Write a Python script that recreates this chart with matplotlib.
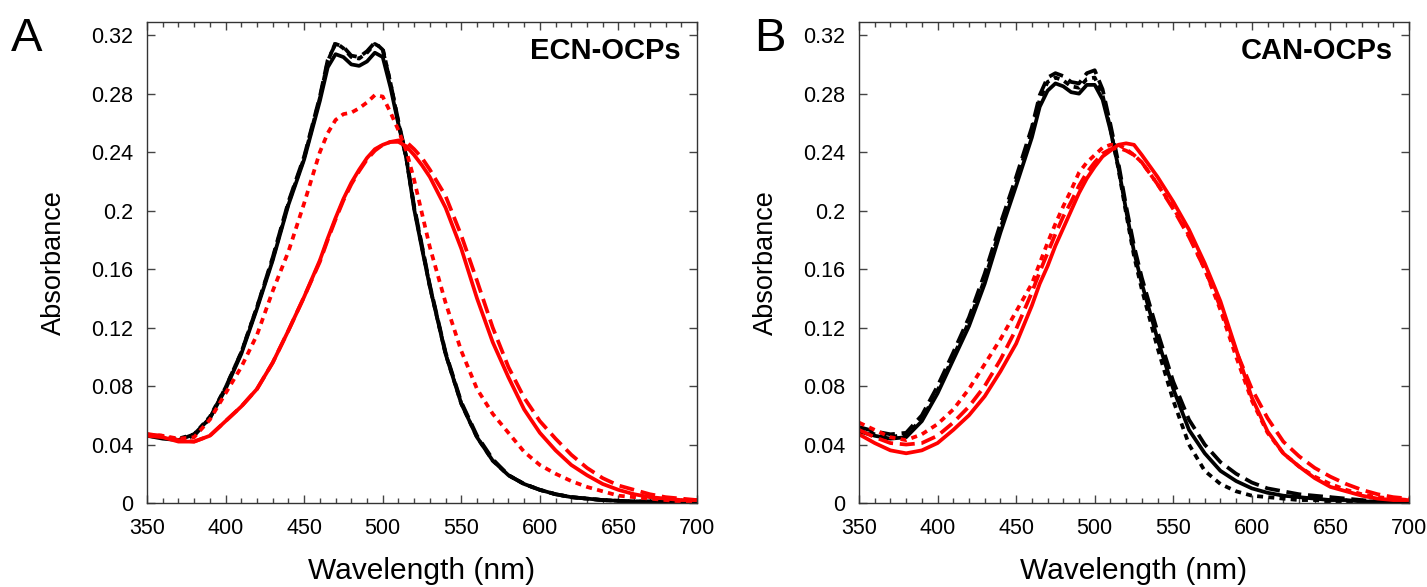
import matplotlib
matplotlib.use("Agg")
import matplotlib.pyplot as plt
from matplotlib.ticker import MultipleLocator, FixedLocator

plt.rcParams['font.family'] = ['Liberation Sans', 'DejaVu Sans']

wavelength = [350, 360, 370, 380, 390, 400, 410, 420, 430, 440, 450, 460, 465, 470, 475,
              480, 485, 490, 495, 500, 505, 510, 515, 520, 525, 530, 540, 550, 560, 570,
              580, 590, 600, 610, 620, 630, 640, 650, 660, 670, 680, 690, 700]

# ---- Panel A: ECN-OCPs ----
ecn_black_solid = [0.046, 0.044, 0.043, 0.047, 0.058, 0.078, 0.102, 0.133, 0.166, 0.204, 0.235, 0.275, 0.298, 0.307, 0.305,
                   0.300, 0.299, 0.302, 0.308, 0.305, 0.284, 0.259, 0.236, 0.201, 0.174, 0.148, 0.102, 0.068, 0.045, 0.029,
                   0.019, 0.013, 0.009, 0.006, 0.004, 0.003, 0.002, 0.0015, 0.001, 0.001, 0.001, 0.0005, 0.0]
ecn_black_dashed = [0.047, 0.045, 0.043, 0.046, 0.058, 0.079, 0.103, 0.134, 0.168, 0.206, 0.237, 0.278, 0.303, 0.314, 0.312,
                    0.306, 0.305, 0.309, 0.315, 0.310, 0.287, 0.261, 0.237, 0.203, 0.176, 0.149, 0.103, 0.069, 0.046, 0.030,
                    0.019, 0.013, 0.009, 0.006, 0.004, 0.003, 0.002, 0.0015, 0.001, 0.001, 0.001, 0.0005, 0.0]
ecn_black_dotted = [0.046, 0.045, 0.044, 0.047, 0.059, 0.079, 0.103, 0.134, 0.167, 0.205, 0.236, 0.277, 0.302, 0.315, 0.311,
                    0.305, 0.304, 0.308, 0.314, 0.311, 0.287, 0.260, 0.236, 0.202, 0.175, 0.148, 0.102, 0.068, 0.045, 0.029,
                    0.019, 0.013, 0.009, 0.006, 0.004, 0.003, 0.002, 0.0015, 0.001, 0.001, 0.001, 0.0005, 0.0]
ecn_red_solid = [0.046, 0.045, 0.042, 0.042, 0.046, 0.056, 0.066, 0.078, 0.096, 0.118, 0.141, 0.166, 0.181, 0.195, 0.208,
                 0.219, 0.228, 0.236, 0.242, 0.245, 0.247, 0.247, 0.244, 0.238, 0.231, 0.223, 0.202, 0.174, 0.140, 0.110,
                 0.086, 0.064, 0.048, 0.036, 0.026, 0.019, 0.013, 0.009, 0.006, 0.004, 0.003, 0.002, 0.002]
ecn_red_dashed = [0.047, 0.046, 0.043, 0.042, 0.046, 0.056, 0.066, 0.078, 0.096, 0.118, 0.141, 0.165, 0.180, 0.194, 0.207,
                  0.218, 0.227, 0.235, 0.241, 0.245, 0.247, 0.248, 0.247, 0.242, 0.236, 0.228, 0.210, 0.183, 0.152, 0.120,
                  0.093, 0.072, 0.056, 0.044, 0.033, 0.024, 0.017, 0.012, 0.009, 0.006, 0.004, 0.003, 0.002]
ecn_red_dotted = [0.047, 0.046, 0.044, 0.045, 0.057, 0.075, 0.093, 0.115, 0.145, 0.172, 0.205, 0.240, 0.253, 0.262, 0.266,
                  0.267, 0.270, 0.274, 0.279, 0.278, 0.267, 0.255, 0.241, 0.221, 0.198, 0.175, 0.137, 0.104, 0.078, 0.061,
                  0.048, 0.035, 0.026, 0.020, 0.015, 0.011, 0.008, 0.005, 0.004, 0.003, 0.002, 0.001, 0.001]

# ---- Panel B: CAN-OCPs ----
can_black_solid = [0.049, 0.046, 0.044, 0.045, 0.056, 0.075, 0.098, 0.121, 0.150, 0.185, 0.217, 0.250, 0.271, 0.282, 0.287,
                   0.285, 0.281, 0.280, 0.286, 0.286, 0.276, 0.255, 0.230, 0.200, 0.172, 0.150, 0.112, 0.078, 0.050, 0.034,
                   0.022, 0.015, 0.010, 0.007, 0.005, 0.004, 0.003, 0.002, 0.002, 0.001, 0.001, 0.001, 0.001]
can_black_dashed = [0.052, 0.049, 0.047, 0.048, 0.060, 0.080, 0.103, 0.127, 0.157, 0.191, 0.223, 0.257, 0.279, 0.291, 0.294,
                    0.292, 0.288, 0.287, 0.294, 0.296, 0.283, 0.259, 0.233, 0.203, 0.176, 0.154, 0.117, 0.083, 0.057, 0.040,
                    0.028, 0.020, 0.014, 0.010, 0.008, 0.006, 0.005, 0.004, 0.003, 0.002, 0.001, 0.001, 0.001]
can_black_dotted = [0.051, 0.047, 0.045, 0.047, 0.057, 0.077, 0.100, 0.124, 0.153, 0.188, 0.220, 0.254, 0.276, 0.288, 0.291,
                    0.289, 0.285, 0.284, 0.290, 0.291, 0.279, 0.256, 0.229, 0.198, 0.169, 0.146, 0.106, 0.070, 0.040, 0.022,
                    0.013, 0.008, 0.005, 0.004, 0.003, 0.002, 0.002, 0.001, 0.001, 0.001, 0.001, 0.0, 0.0]
can_red_solid = [0.047, 0.041, 0.036, 0.034, 0.036, 0.041, 0.050, 0.060, 0.073, 0.090, 0.109, 0.135, 0.150, 0.162, 0.176,
                 0.188, 0.200, 0.212, 0.222, 0.230, 0.237, 0.241, 0.245, 0.246, 0.245, 0.238, 0.223, 0.206, 0.187, 0.164,
                 0.138, 0.105, 0.072, 0.049, 0.034, 0.025, 0.017, 0.011, 0.008, 0.005, 0.003, 0.002, 0.002]
can_red_dashed = [0.050, 0.045, 0.041, 0.040, 0.041, 0.046, 0.055, 0.066, 0.080, 0.098, 0.119, 0.144, 0.158, 0.171, 0.184,
                  0.196, 0.206, 0.217, 0.226, 0.233, 0.239, 0.242, 0.243, 0.241, 0.238, 0.233, 0.218, 0.201, 0.182, 0.160,
                  0.134, 0.104, 0.078, 0.058, 0.042, 0.032, 0.024, 0.018, 0.013, 0.009, 0.006, 0.004, 0.003]
can_red_dotted = [0.055, 0.050, 0.045, 0.043, 0.047, 0.054, 0.064, 0.078, 0.095, 0.112, 0.131, 0.150, 0.164, 0.178, 0.191,
                  0.203, 0.214, 0.226, 0.233, 0.238, 0.243, 0.245, 0.245, 0.242, 0.238, 0.233, 0.218, 0.202, 0.183, 0.160,
                  0.132, 0.100, 0.070, 0.048, 0.034, 0.025, 0.018, 0.013, 0.009, 0.006, 0.004, 0.003, 0.002]

x_ticks = [350, 400, 450, 500, 550, 600, 650, 700]
y_ticks = [0, 0.04, 0.08, 0.12, 0.16, 0.2, 0.24, 0.28, 0.32]
y_tick_labels = ['0', '0.04', '0.08', '0.12', '0.16', '0.2', '0.24', '0.28', '0.32']

fig = plt.figure(figsize=(14.27, 5.87), dpi=100)
W, H = 1427.0, 587.0
axA = fig.add_axes([147 / W, 1 - 503 / H, 550 / W, 481 / H])
axB = fig.add_axes([859 / W, 1 - 503 / H, 550 / W, 481 / H])

lw = 2.7
dash_style = (0, (4.0, 1.8))
dot_style = (0, (1.6, 1.4))


def draw(ax, series, title, letter, letter_x):
    for y, color, ls in series:
        ax.plot(wavelength, y, color=color, lw=lw, linestyle=ls,
                solid_capstyle='round', dash_capstyle='butt', solid_joinstyle='round')
    ax.set_xlim(350, 700)
    ax.set_ylim(0, 0.329)
    ax.xaxis.set_major_locator(FixedLocator(x_ticks))
    ax.xaxis.set_minor_locator(MultipleLocator(10))
    ax.yaxis.set_major_locator(FixedLocator(y_ticks))
    ax.set_yticklabels(y_tick_labels)
    ax.tick_params(axis='both', which='both', direction='in', top=True, right=True,
                   color='#444444', labelsize=15.5)
    ax.tick_params(axis='both', which='major', length=6, width=1)
    ax.tick_params(axis='x', which='minor', length=3.5, width=1)
    ax.tick_params(axis='y', which='major', pad=10)
    ax.tick_params(axis='x', which='major', pad=11)
    for s in ax.spines.values():
        s.set_color('#333333')
        s.set_linewidth(1.0)
    ax.set_xlabel('Wavelength (nm)', fontsize=21.5, labelpad=13)
    ax.set_ylabel('Absorbance', fontsize=19.5, labelpad=17)
    ax.text(0.97, 0.968, title, transform=ax.transAxes, ha='right', va='top',
            fontsize=21, fontweight='bold')
    ax.text(letter_x, 1.01, letter, transform=ax.transAxes, ha='left', va='top', fontsize=34)


draw(axA, [(ecn_black_solid, 'black', '-'), (ecn_black_dashed, 'black', dash_style),
           (ecn_black_dotted, 'black', dot_style), (ecn_red_solid, 'red', '-'),
           (ecn_red_dashed, 'red', dash_style), (ecn_red_dotted, 'red', dot_style)],
     'ECN-OCPs', 'A', -0.248)
draw(axB, [(can_black_solid, 'black', '-'), (can_black_dashed, 'black', dash_style),
           (can_black_dotted, 'black', dot_style), (can_red_solid, 'red', '-'),
           (can_red_dashed, 'red', dash_style), (can_red_dotted, 'red', dot_style)],
     'CAN-OCPs', 'B', -0.19)

fig.savefig('out.png', dpi=100, facecolor='white')
